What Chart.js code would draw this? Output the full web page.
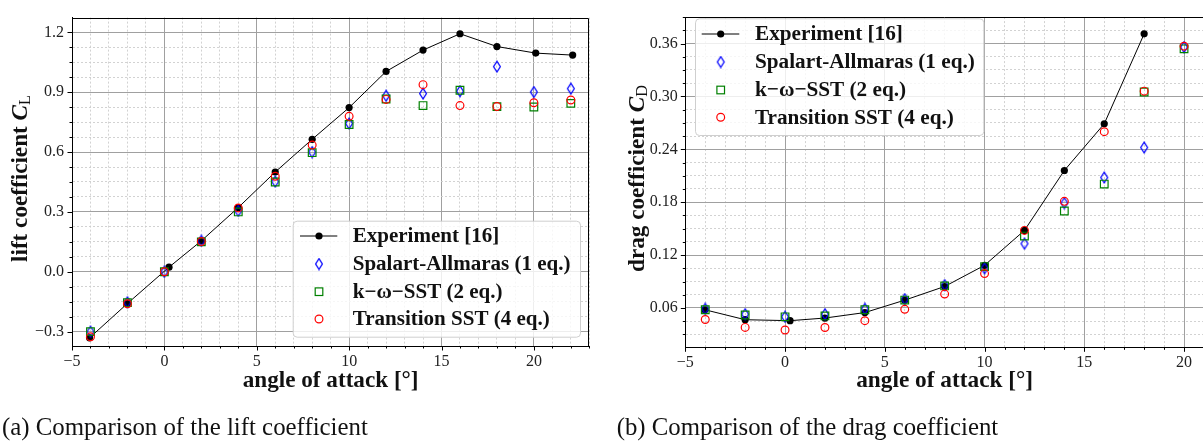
<!DOCTYPE html>
<html><head><meta charset="utf-8">
<script src="https://cdn.jsdelivr.net/npm/chart.js@4"></script>
<style>
html,body{margin:0;padding:0;background:#fff;overflow:hidden;width:1203px;height:445px;position:relative}
canvas{position:absolute;top:0}
#cL{left:0}
#cD{left:600px}
</style></head><body>
<canvas id="cL" width="600" height="445"></canvas>
<canvas id="cD" width="610" height="445"></canvas>
<script>
// ---------------- data ----------------
const alphaExpL = [-4.05, -2, 0.25, 2, 4, 6, 8, 10, 12, 14, 16, 18, 20.1, 22.1];
const clExp     = [-0.331, -0.159, 0.023, 0.155, 0.322, 0.500, 0.664, 0.823, 1.004, 1.111, 1.193, 1.129, 1.096, 1.086];
const alphaCfdL = [-4, -2, 0, 2, 4, 6, 8, 10, 12, 14, 16, 18, 20, 22];
const clSA      = [-0.300, -0.153, 0.000, 0.155, 0.305, 0.452, 0.600, 0.743, 0.882, 0.893, 0.905, 1.028, 0.901, 0.918];
const clKW      = [-0.300, -0.155, 0.000, 0.150, 0.300, 0.450, 0.597, 0.738, 0.866, 0.833, 0.910, 0.828, 0.826, 0.844];
const clTR      = [-0.326, -0.160, 0.000, 0.152, 0.320, 0.479, 0.635, 0.779, 0.864, 0.938, 0.833, 0.828, 0.847, 0.861];

const alphaExpD = [-4.02, -2, 0.25, 2, 4, 6, 8, 10, 12, 14, 16, 18];
const cdExp     = [0.0580, 0.0467, 0.0456, 0.0486, 0.0548, 0.0689, 0.0844, 0.1084, 0.1480, 0.2160, 0.2690, 0.3710];
const alphaCfdD = [-4, -2, 0, 2, 4, 6, 8, 10, 12, 14, 16, 18, 20];
const cdSA      = [0.0590, 0.0530, 0.0500, 0.0530, 0.0590, 0.0700, 0.0860, 0.1050, 0.1330, 0.1790, 0.2080, 0.2420, 0.3560];
const cdKW      = [0.0580, 0.0520, 0.0500, 0.0510, 0.0580, 0.0690, 0.0850, 0.1070, 0.1416, 0.1700, 0.2006, 0.3050, 0.3540];
const cdTR      = [0.0470, 0.0380, 0.0350, 0.0378, 0.0456, 0.0585, 0.0758, 0.0990, 0.1480, 0.1810, 0.2600, 0.3060, 0.3570];

const xTickVals  = [-5, 0, 5, 10, 15, 20];
const yTickValsL = [-0.3, 0.0, 0.3, 0.6, 0.9, 1.2];
const yTickValsD = [0.06, 0.12, 0.18, 0.24, 0.30, 0.36];

const seriesNames = ['Experiment [16]', 'Spalart-Allmaras (1 eq.)', 'k\u2212\u03c9\u2212SST (2 eq.)', 'Transition SST (4 eq.)'];

// ---------------- helpers ----------------
const SERIF = 'Liberation Serif, DejaVu Serif, serif';
const BLUE = '#0000ff', GREEN = '#008000', RED = '#ff0000';
const near = (v, arr) => arr.some(a => Math.abs(a - v) < 1e-6);
const fmtNum = (v, d) => (v < -1e-9 ? '\u2212' : '') + Math.abs(v).toFixed(d);

function makeDiamond() {
  const c = document.createElement('canvas');
  c.width = 10; c.height = 13;
  const g = c.getContext('2d');
  g.strokeStyle = BLUE; g.lineWidth = 1.25;
  g.beginPath();
  g.moveTo(5, 1.2); g.lineTo(8.4, 6.5); g.lineTo(5, 11.8); g.lineTo(1.6, 6.5); g.closePath();
  g.stroke();
  return c;
}
const diamond = makeDiamond();

function pts(xs, ys) { return xs.map((x, i) => ({x: x, y: ys[i]})); }

function fitSize(ctx, text, style, target) {
  ctx.font = style + ' 100px ' + SERIF;
  return 100 * target / ctx.measureText(text).width;
}

function drawMarker(ctx, k, x, y, L) {
  ctx.save();
  if (k === 0) {
    ctx.strokeStyle = '#000'; ctx.lineWidth = 1;
    ctx.beginPath(); ctx.moveTo(L.lineX1, y); ctx.lineTo(L.lineX2, y); ctx.stroke();
    ctx.fillStyle = '#000'; ctx.beginPath(); ctx.arc(x, y, 3.6, 0, Math.PI * 2); ctx.fill();
  } else if (k === 1) {
    ctx.drawImage(diamond, x - diamond.width / 2, y - diamond.height / 2);
  } else if (k === 2) {
    ctx.strokeStyle = GREEN; ctx.lineWidth = 1.2;
    ctx.strokeRect(x - 3.8, y - 3.8, 7.6, 7.6);
  } else {
    ctx.strokeStyle = RED; ctx.lineWidth = 1.2;
    ctx.beginPath(); ctx.arc(x, y, 3.9, 0, Math.PI * 2); ctx.stroke();
  }
  ctx.restore();
}

function decoPlugin(cfg) {
  return {
    id: 'deco',
    afterDraw(chart) {
      const ctx = chart.ctx, a = chart.chartArea, xs = chart.scales.x, ys = chart.scales.y;
      ctx.save();
      // tick marks
      ctx.strokeStyle = '#000'; ctx.lineWidth = 1;
      ctx.beginPath();
      xs.ticks.forEach(t => {
        const p = Math.round(xs.getPixelForValue(t.value)) + 0.5;
        if (p > a.right + 1) return;
        const len = near(t.value, xTickVals) ? 4.5 : 2.5;
        ctx.moveTo(p, a.bottom); ctx.lineTo(p, a.bottom + len);
      });
      ys.ticks.forEach(t => {
        const p = Math.round(ys.getPixelForValue(t.value)) + 0.5;
        const len = near(t.value, cfg.yMajor) ? 4.5 : 2.5;
        ctx.moveTo(a.left, p); ctx.lineTo(a.left - len, p);
      });
      ctx.stroke();
      // frame
      const l = Math.round(a.left) + 0.5, r = Math.round(a.right) - 0.5, tp = Math.round(a.top) + 0.5, b = Math.round(a.bottom) + 0.5;
      ctx.beginPath(); ctx.rect(l, tp, r - l, b - tp); ctx.stroke();

      // x title
      ctx.fillStyle = '#111';
      let s = fitSize(ctx, 'angle of attack [\u00b0]', 'bold', cfg.xTitleW);
      ctx.font = 'bold ' + s + 'px ' + SERIF;
      ctx.textAlign = 'center'; ctx.textBaseline = 'alphabetic';
      ctx.fillText('angle of attack [\u00b0]', (a.left + a.right) / 2, cfg.xTitleBase);

      // y title (rotated, with subscript)
      const parts = cfg.yTitle;
      let w100 = 0;
      parts.forEach(p => { ctx.font = p.f + ' ' + (100 * (p.sc || 1)) + 'px ' + SERIF; w100 += ctx.measureText(p.t).width; });
      s = 100 * cfg.yTitleW / w100;
      ctx.save();
      ctx.translate(cfg.yTitleX, cfg.yTitleY);
      ctx.rotate(-Math.PI / 2);
      ctx.textAlign = 'left';
      let cx = -cfg.yTitleW / 2;
      parts.forEach(p => {
        ctx.font = p.f + ' ' + (s * (p.sc || 1)) + 'px ' + SERIF;
        ctx.fillText(p.t, cx, (p.dy || 0) * s / 19);
        cx += ctx.measureText(p.t).width;
      });
      ctx.restore();

      // caption
      s = fitSize(ctx, cfg.caption, 'normal', cfg.capW);
      ctx.font = 'normal ' + s + 'px ' + SERIF;
      ctx.textAlign = 'left'; ctx.fillStyle = '#111';
      ctx.fillText(cfg.caption, cfg.capX, cfg.capBase);

      // legend
      const L = cfg.legend;
      ctx.fillStyle = 'rgba(255,255,255,0.82)';
      ctx.strokeStyle = '#cfcfcf'; ctx.lineWidth = 1;
      ctx.beginPath();
      ctx.roundRect(L.x1 + 0.5, L.y1 + 0.5, L.x2 - L.x1, L.y2 - L.y1, 4);
      ctx.fill(); ctx.stroke();
      s = fitSize(ctx, seriesNames[1], 'bold', L.fitW);
      ctx.font = 'bold ' + s + 'px ' + SERIF;
      ctx.fillStyle = '#111'; ctx.textAlign = 'left'; ctx.textBaseline = 'middle';
      L.rows.forEach((y, k) => {
        drawMarker(ctx, k, L.mx, y, L);
        ctx.fillText(seriesNames[k], L.tx, y + 1);
      });
      ctx.restore();
    }
  };
}

function makeChart(id, data, opt) {
  const isMajY = v => near(v, opt.yMajor);
  const datasets = [
    {label: seriesNames[0], data: data[0], showLine: true, borderColor: '#000', borderWidth: 1,
     pointStyle: 'circle', pointRadius: 3.6, pointBackgroundColor: '#000', pointBorderColor: '#000', pointBorderWidth: 0, order: 4},
    {label: seriesNames[1], data: data[1], showLine: false, pointStyle: diamond, pointRadius: 5, order: 3},
    {label: seriesNames[2], data: data[2], showLine: false, pointStyle: 'rect', pointRadius: 5.4,
     pointBackgroundColor: 'rgba(0,0,0,0)', pointBorderColor: GREEN, pointBorderWidth: 1.2, order: 2},
    {label: seriesNames[3], data: data[3], showLine: false, pointStyle: 'circle', pointRadius: 3.9,
     pointBackgroundColor: 'rgba(0,0,0,0)', pointBorderColor: RED, pointBorderWidth: 1.2, order: 1}
  ];
  const gridOpts = (majorFn) => ({
    color: c => (c.tick && majorFn(c.tick.value)) ? '#a0a0a0' : '#cdcdcd',
    lineWidth: c => (c.tick && majorFn(c.tick.value)) ? 1 : 0.9,
    drawTicks: false
  });
  const borderOpts = (majorFn) => ({
    display: true, color: '#000', width: 1,
    dash: c => (c.tick && !majorFn(c.tick.value)) ? [2, 2] : []
  });
  return new Chart(document.getElementById(id), {
    type: 'line',
    data: {datasets: datasets},
    options: {
      responsive: false, animation: false, devicePixelRatio: 1,
      layout: {padding: opt.padding, autoPadding: false},
      plugins: {legend: {display: false}, tooltip: {enabled: false}},
      elements: {line: {tension: 0}},
      scales: {
        x: {
          type: 'linear', position: 'bottom', min: opt.xMin, max: opt.xMax,
          afterFit: s => { s.height = opt.xH; },
          grid: gridOpts(v => near(v, xTickVals)),
          border: borderOpts(v => near(v, xTickVals)),
          ticks: {stepSize: 1, autoSkip: false, maxRotation: 0, includeBounds: false, padding: 6,
                  color: '#222', font: {family: SERIF, size: 16, weight: 'normal'},
                  callback: v => near(v, xTickVals) ? fmtNum(v, 0) : ''}
        },
        y: {
          type: 'linear', position: 'left', min: opt.yMin, max: opt.yMax,
          afterFit: s => { s.width = opt.yW; },
          grid: gridOpts(isMajY),
          border: borderOpts(isMajY),
          ticks: {stepSize: opt.yMinor, autoSkip: false, includeBounds: false, padding: opt.yPad,
                  color: '#222', font: {family: SERIF, size: 16, weight: 'normal'},
                  callback: v => isMajY(v) ? fmtNum(v, opt.yDec) : ''}
        }
      }
    },
    plugins: [decoPlugin(opt)]
  });
}

makeChart('cL', [pts(alphaExpL, clExp), pts(alphaCfdL, clSA), pts(alphaCfdL, clKW), pts(alphaCfdL, clTR)], {
  xMin: -5, xMax: 23, yMin: -0.372, yMax: 1.274, yMinor: 0.075, yMajor: yTickValsL, yDec: 1,
  padding: {left: 0, right: 10.7, top: 10.7, bottom: 0}, yW: 72, xH: 99, yPad: 8,
  xTitleW: 176, xTitleBase: 386.5,
  yTitle: [{t: 'lift coefficient ', f: 'bold'}, {t: 'C', f: 'italic bold'}, {t: 'L', f: 'normal', sc: 0.7, dy: 2.5}],
  yTitleW: 167, yTitleX: 27, yTitleY: 178.5,
  caption: '(a) Comparison of the lift coefficient', capW: 366, capX: 2, capBase: 435,
  legend: {x1: 292.7, y1: 220.7, x2: 580, y2: 336.7, rows: [236, 264, 291.7, 319], mx: 319, lineX1: 300, lineX2: 337.3, tx: 352.7, fitW: 218}
});

makeChart('cD', [pts(alphaExpD, cdExp), pts(alphaCfdD, cdSA), pts(alphaCfdD, cdKW), pts(alphaCfdD, cdTR)], {
  xMin: -5, xMax: 21, yMin: 0.0154, yMax: 0.39, yMinor: 0.015, yMajor: yTickValsD, yDec: 2,
  padding: {left: 0, right: 4, top: 9, bottom: 0}, yW: 85.3, xH: 97.7, yPad: 7.5,
  xTitleW: 177, xTitleBase: 386.5,
  yTitle: [{t: 'drag coefficient ', f: 'bold'}, {t: 'C', f: 'italic bold'}, {t: 'D', f: 'normal', sc: 0.7, dy: 2.5}],
  yTitleW: 187, yTitleX: 43.5, yTitleY: 178.5,
  caption: '(b) Comparison of the drag coefficient', capW: 381.7, capX: 16.7, capBase: 435,
  legend: {x1: 95, y1: 18.3, x2: 383.3, y2: 135, rows: [34, 62, 90, 117.3], mx: 120.7, lineX1: 101.7, lineX2: 139.3, tx: 155, fitW: 220}
});
</script>
</body></html>
